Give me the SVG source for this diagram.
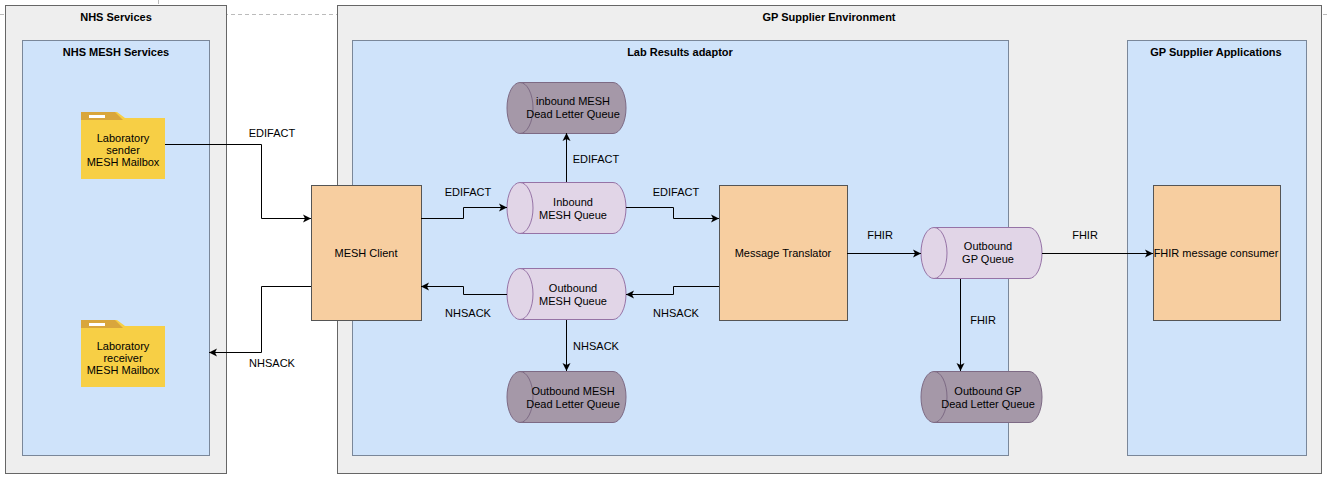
<svg xmlns="http://www.w3.org/2000/svg" width="1328" height="478" viewBox="0 0 1328 478">
<defs>
<marker id="a" markerWidth="10" markerHeight="10" refX="9" refY="5" orient="auto" markerUnits="userSpaceOnUse"><path d="M1,1 L9,5 L1,9 L3,5 Z" fill="#000"/></marker>
</defs>
<style>
text{font-family:"Liberation Sans",Arial,sans-serif;font-size:11px;fill:#000;text-anchor:middle}
.t{font-weight:bold}
.outer{fill:#eeeeee;stroke:#666;stroke-width:1}
.blue{fill:#cfe3fa;stroke:#7a8799;stroke-width:1}
.orange{fill:#f7cea0;stroke:#555;stroke-width:1}
.q{fill:#e1d5e7;stroke:#9673a6}
.dl{fill:#a598a8;stroke:#7d6a84}
.c{fill:none;stroke:#000;stroke-width:1;marker-end:url(#a)}
.dash{stroke:#bbb;stroke-dasharray:4 3;fill:none}
</style>
<rect width="1328" height="478" fill="#fff"/>
<path class="dash" d="M0,14.5 H1328 M158.5,0 V5"/>
<g id="nhs-services"><rect class="outer" x="5.5" y="5.5" width="221" height="468"/><text class="t" x="116" y="21">NHS Services</text></g>
<g id="gp-env"><rect class="outer" x="337.5" y="5.5" width="984" height="468"/><text class="t" x="829" y="21">GP Supplier Environment</text></g>
<g id="nhs-mesh"><rect class="blue" x="22.5" y="40.5" width="187" height="415"/><text class="t" x="116" y="56">NHS MESH Services</text></g>
<g id="lab-adaptor"><rect class="blue" x="352.5" y="40.5" width="656" height="415"/><text class="t" x="680" y="56">Lab Results adaptor</text></g>
<g id="gp-apps"><rect class="blue" x="1127.5" y="40.5" width="179" height="415"/><text class="t" x="1216" y="56">GP Supplier Applications</text></g>
<g id="sender">
<path d="M81,112 H117 L125,118 H165 V179 H81 Z" fill="#f7cf45"/>
<path d="M81,112 H115 L123,120 H81 Z" fill="#d9a63c"/>
<rect x="89" y="115" width="16" height="3" fill="#fff"/>
<text x="123" y="142">Laboratory</text><text x="123" y="154">sender</text><text x="123" y="166">MESH Mailbox</text>
</g>
<g id="receiver">
<path d="M81,320 H117 L125,326 H165 V387 H81 Z" fill="#f7cf45"/>
<path d="M81,320 H115 L123,328 H81 Z" fill="#d9a63c"/>
<rect x="89" y="323" width="16" height="3" fill="#fff"/>
<text x="123" y="350">Laboratory</text><text x="123" y="362">receiver</text><text x="123" y="374">MESH Mailbox</text>
</g>
<g id="mesh-client"><rect class="orange" x="311.5" y="185.5" width="110" height="135"/><text x="366" y="257">MESH Client</text></g>
<g id="translator"><rect class="orange" x="719.5" y="185.5" width="128" height="135"/><text x="783" y="257">Message Translator</text></g>
<g id="consumer"><rect class="orange" x="1153.5" y="185.5" width="127" height="135"/><text x="1216" y="257">FHIR message consumer</text></g>
<g id="in-dlq"><path class="dl" d="M520,82.5 H613 A13,25.5 0 0 1 613,133.5 H520 A13,25.5 0 0 1 520,82.5 Z"/><path class="dl" d="M520,82.5 A13,25.5 0 0 1 520,133.5" fill="none"/><text x="573" y="105">inbound MESH</text><text x="573" y="118">Dead Letter Queue</text></g>
<g id="in-q"><path class="q" d="M520,182.5 H613 A13,25.5 0 0 1 613,233.5 H520 A13,25.5 0 0 1 520,182.5 Z"/><path class="q" d="M520,182.5 A13,25.5 0 0 1 520,233.5" fill="none"/><text x="573" y="206">Inbound</text><text x="573" y="219">MESH Queue</text></g>
<g id="out-q"><path class="q" d="M520,268.5 H613 A13,25.5 0 0 1 613,319.5 H520 A13,25.5 0 0 1 520,268.5 Z"/><path class="q" d="M520,268.5 A13,25.5 0 0 1 520,319.5" fill="none"/><text x="573" y="292">Outbound</text><text x="573" y="305">MESH Queue</text></g>
<g id="out-dlq"><path class="dl" d="M520,371.5 H613 A13,25.5 0 0 1 613,422.5 H520 A13,25.5 0 0 1 520,371.5 Z"/><path class="dl" d="M520,371.5 A13,25.5 0 0 1 520,422.5" fill="none"/><text x="573" y="395">Outbound MESH</text><text x="573" y="408">Dead Letter Queue</text></g>
<g id="gp-q"><path class="q" d="M934,227.5 H1029 A13,25.5 0 0 1 1029,278.5 H934 A13,25.5 0 0 1 934,227.5 Z"/><path class="q" d="M934,227.5 A13,25.5 0 0 1 934,278.5" fill="none"/><text x="988" y="250">Outbound</text><text x="988" y="263">GP Queue</text></g>
<g id="gp-dlq"><path class="dl" d="M934,371.5 H1029 A13,25.5 0 0 1 1029,422.5 H934 A13,25.5 0 0 1 934,371.5 Z"/><path class="dl" d="M934,371.5 A13,25.5 0 0 1 934,422.5" fill="none"/><text x="988" y="395">Outbound GP</text><text x="988" y="408">Dead Letter Queue</text></g>
<g id="connectors">
<path class="c" d="M165,144.5 H261.5 V218.5 H311"/>
<path class="c" d="M311,286.5 H261.5 V352.5 H209"/>
<path class="c" d="M421,218.5 H463.5 V207.5 H507"/>
<path class="c" d="M566.5,182 V133"/>
<path class="c" d="M626,207.5 H673.5 V218.5 H719"/>
<path class="c" d="M719,286.5 H673.5 V294.5 H626"/>
<path class="c" d="M507,294.5 H463.5 V286.5 H421"/>
<path class="c" d="M566.5,320 V371"/>
<path class="c" d="M847,253.5 H921"/>
<path class="c" d="M1042,253.5 H1153"/>
<path class="c" d="M960.5,279 V371"/>
<text x="272" y="137">EDIFACT</text>
<text x="272" y="367">NHSACK</text>
<text x="468" y="196">EDIFACT</text>
<text x="596" y="163">EDIFACT</text>
<text x="676" y="196">EDIFACT</text>
<text x="676" y="317">NHSACK</text>
<text x="468" y="317">NHSACK</text>
<text x="596" y="350">NHSACK</text>
<text x="880" y="239">FHIR</text>
<text x="1085" y="239">FHIR</text>
<text x="983" y="324">FHIR</text>
</g>
</svg>
